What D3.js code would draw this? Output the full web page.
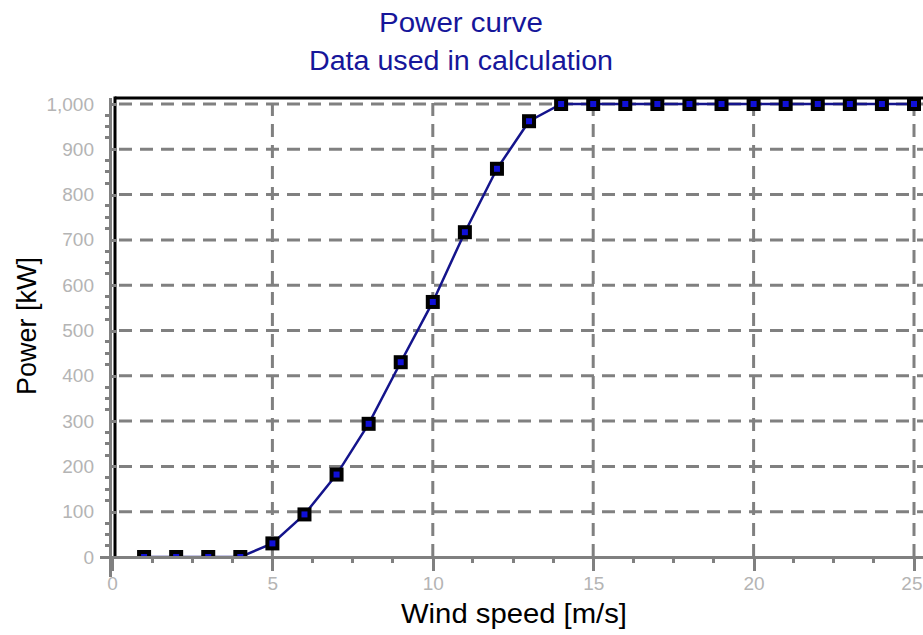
<!DOCTYPE html>
<html lang="en">
<head>
<meta charset="utf-8">
<title>Power curve</title>
<style>
  body { margin: 0; background: #fff; }
  svg { display: block; font-family: "Liberation Sans", Arial, sans-serif; }
  .grid line { stroke: #808080; stroke-width: 3; stroke-dasharray: 13 8; }
  .axis path, .axis line { stroke: #808080; stroke-width: 3; shape-rendering: crispEdges; }
  .axis text { fill: #b4b4b4; font-size: 19px; font-family: "Liberation Sans", Arial, sans-serif; }
</style>
</head>
<body>
<svg width="923" height="635"></svg>
<script src="https://cdnjs.cloudflare.com/ajax/libs/d3/7.8.5/d3.min.js"></script>
<script>
  // values
  var windSpeed = [1, 2, 3, 4, 5, 6, 7, 8, 9, 10, 11, 12, 13, 14, 15, 16, 17, 18, 19, 20, 21, 22, 23, 24, 25];
  var power = [0, 0, 0, 0, 30, 94, 182, 294, 430, 563, 717, 857, 962, 1000, 1000, 1000, 1000, 1000, 1000, 1000, 1000, 1000, 1000, 1000, 1000];
  var xTicks = [0, 5, 10, 15, 20, 25];
  var xMinor = [1.25, 2.5, 3.75, 6.25, 7.5, 8.75, 11.25, 12.5, 13.75, 16.25, 17.5, 18.75, 21.25, 22.5, 23.75];
  var yTicks = [0, 100, 200, 300, 400, 500, 600, 700, 800, 900, 1000];
  var yMinor = [25, 50, 75, 125, 150, 175, 225, 250, 275, 325, 350, 375, 425, 450, 475, 525, 550, 575,
                625, 650, 675, 725, 750, 775, 825, 850, 875, 925, 950, 975];
  var titleLines = ["Power curve", "Data used in calculation"];
  var xTitle = "Wind speed [m/s]";
  var yTitle = "Power [kW]";

  var svg = d3.select("svg");
  var width = 923, height = 635;
  // plot box edges (not "top": that name is taken by window.top)
  var plotLeft = 115, plotRight = 923, plotTop = 98, plotBottom = 557;

  var x = d3.scaleLinear().domain([0, 25]).range([112, 914]);
  var y = d3.scaleLinear().domain([0, 1000]).range([557, 104]);

  // titles
  svg.selectAll(".title")
    .data(titleLines)
    .enter()
    .append("text")
      .attr("class", "title")
      .attr("x", 461)
      .attr("y", function(d, i) { return i == 0 ? 32 : 70; })
      .attr("text-anchor", "middle")
      .attr("fill", "#16169a")
      .attr("font-size", "27px")
      .attr("textLength", function(d, i) { return i == 0 ? 164 : 304; })
      .attr("lengthAdjust", "spacingAndGlyphs")
      .text(function(d) { return d; });

  // gridlines
  var grid = svg.append("g").attr("class", "grid");
  grid.selectAll(".h")
    .data(yTicks.slice(1))
    .enter()
    .append("line")
      .attr("x1", plotLeft + 4).attr("x2", plotRight)
      .attr("y1", function(d) { return y(d); })
      .attr("y2", function(d) { return y(d); });
  grid.selectAll(".v")
    .data(xTicks.slice(1))
    .enter()
    .append("line")
      .attr("x1", function(d) { return x(d); })
      .attr("x2", function(d) { return x(d); })
      .attr("y1", plotBottom).attr("y2", plotTop + 4);

  svg.append("clipPath").attr("id", "plot")
    .append("rect")
    .attr("x", plotLeft).attr("y", 80)
    .attr("width", plotRight - plotLeft).attr("height", plotBottom - 80);

  var plot = svg.append("g").attr("clip-path", "url(#plot)");

  var line = d3.line()
    .x(function(d, i) { return x(windSpeed[i]); })
    .y(function(d) { return y(d); });

  plot.append("path")
    .datum(power)
    .attr("fill", "none")
    .attr("stroke", "#14148c")
    .attr("stroke-width", 2.5)
    .attr("d", line);

  plot.selectAll(".marker")
    .data(power)
    .enter()
    .append("rect")
      .attr("class", "marker")
      .attr("x", function(d, i) { return x(windSpeed[i]) - 5; })
      .attr("y", function(d) { return y(d) - 5; })
      .attr("width", 10)
      .attr("height", 10)
      .attr("fill", "#1010d8")
      .attr("stroke", "#000")
      .attr("stroke-width", 4);

  // frame: black top and left edge
  svg.append("line")
    .attr("x1", plotLeft).attr("x2", plotRight)
    .attr("y1", plotTop).attr("y2", plotTop)
    .attr("stroke", "#000").attr("stroke-width", 3);
  svg.append("line")
    .attr("x1", plotLeft).attr("x2", plotLeft)
    .attr("y1", plotTop - 1.5).attr("y2", plotBottom)
    .attr("stroke", "#000").attr("stroke-width", 3);

  // x axis
  var xAxis = svg.append("g")
    .attr("class", "axis")
    .attr("transform", "translate(0," + plotBottom + ")");
  xAxis.call(d3.axisBottom(x).tickValues(xTicks).tickSize(14).tickSizeOuter(0).tickPadding(6));
  xAxis.select(".domain").attr("d", "M100,0H" + width);
  xAxis.selectAll(".minor")
    .data(xMinor)
    .enter()
    .append("line")
      .attr("class", "minor")
      .attr("x1", function(d) { return x(d); })
      .attr("x2", function(d) { return x(d); })
      .attr("y1", 0).attr("y2", 6);
  // last label sits against the right edge
  xAxis.selectAll(".tick text")
    .filter(function(d) { return d == 25; })
    .attr("text-anchor", "end")
    .attr("x", 8);

  // y axis
  var yAxis = svg.append("g")
    .attr("class", "axis")
    .attr("transform", "translate(110,0)");
  yAxis.call(d3.axisLeft(y).tickValues(yTicks).tickSize(10).tickSizeOuter(0).tickPadding(6)
    .tickFormat(d3.format(",")));
  yAxis.select(".domain").attr("d", "M0," + plotTop + "V" + (plotBottom + 20));
  yAxis.selectAll(".tick line").attr("x2", 7);
  yAxis.selectAll(".minor")
    .data(yMinor)
    .enter()
    .append("line")
      .attr("class", "minor")
      .attr("x1", -5).attr("x2", 2)
      .attr("y1", function(d) { return y(d); })
      .attr("y2", function(d) { return y(d); });
  yAxis.selectAll(".tick text").attr("x", -16);

  // axis titles
  svg.append("text")
    .attr("x", 514)
    .attr("y", 623)
    .attr("text-anchor", "middle")
    .attr("fill", "#000")
    .attr("font-size", "28px")
    .attr("textLength", 226)
    .attr("lengthAdjust", "spacingAndGlyphs")
    .text(xTitle);

  svg.append("text")
    .attr("transform", "translate(36,326) rotate(-90)")
    .attr("text-anchor", "middle")
    .attr("fill", "#000")
    .attr("font-size", "28px")
    .attr("textLength", 138)
    .attr("lengthAdjust", "spacingAndGlyphs")
    .text(yTitle);
</script>
</body>
</html>
